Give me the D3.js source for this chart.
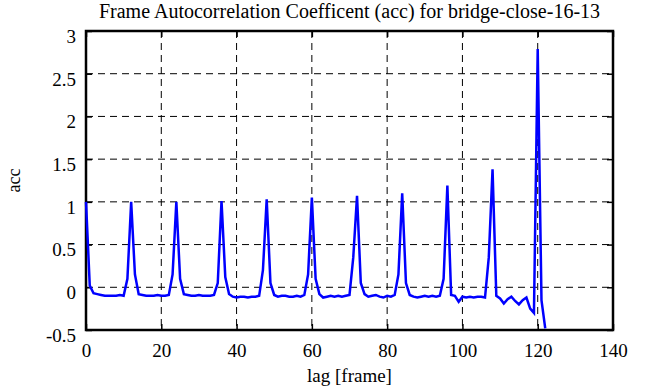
<!DOCTYPE html>
<html>
<head>
<meta charset="utf-8">
<script src="https://cdn.jsdelivr.net/npm/d3@7"></script>
<style>
  body { margin: 0; background: #fff; }
  text { font-family: "Liberation Serif", "DejaVu Serif", serif; fill: #000; }
</style>
</head>
<body>
<div id="chart"></div>
<script>
const TITLE = "Frame Autocorrelation Coefficent (acc) for bridge-close-16-13"
const X_LABEL = "lag [frame]"
const Y_LABEL = "acc"

const X_TICKS = [0, 20, 40, 60, 80, 100, 120, 140]
const Y_TICKS = [-0.5, 0, 0.5, 1, 1.5, 2, 2.5, 3]

// acc value for lag 0, 1, 2, ... (one per frame)
const ACC = [
  1.00, 0.02, -0.07, -0.08, -0.09, -0.10, -0.10, -0.10, -0.10, -0.09,
  -0.10, 0.10, 1.00, 0.15, -0.08, -0.09, -0.10, -0.10, -0.10, -0.09,
  -0.10, -0.10, -0.09, 0.15, 1.00, 0.10, -0.08, -0.09, -0.10, -0.10,
  -0.09, -0.10, -0.10, -0.10, -0.09, 0.05, 1.01, 0.12, -0.08, -0.11,
  -0.12, -0.11, -0.11, -0.12, -0.11, -0.11, -0.10, 0.20, 1.03, 0.05,
  -0.09, -0.11, -0.10, -0.10, -0.11, -0.11, -0.10, -0.11, -0.09, 0.15,
  1.05, 0.10, -0.08, -0.12, -0.11, -0.10, -0.11, -0.10, -0.11, -0.10,
  -0.09, 0.35, 1.07, 0.05, -0.08, -0.11, -0.10, -0.09, -0.11, -0.12,
  -0.10, -0.11, -0.09, 0.15, 1.10, 0.05, -0.09, -0.11, -0.12, -0.11,
  -0.10, -0.11, -0.10, -0.11, -0.10, 0.10, 1.19, -0.09, -0.10, -0.17,
  -0.11, -0.12, -0.11, -0.12, -0.11, -0.11, -0.12, 0.35, 1.38, -0.10,
  -0.13, -0.19, -0.14, -0.11, -0.16, -0.20, -0.15, -0.12, -0.25, -0.30,
  2.79, -0.15, -0.48
]

const W = 666, H = 387
const MARGIN = {top: 31, right: 53, bottom: 57, left: 86}
const WIDTH = W - MARGIN.left - MARGIN.right
const HEIGHT = H - MARGIN.top - MARGIN.bottom
const FONT = "'Liberation Serif', 'Times New Roman', serif"

const svg = d3.select("#chart")
  .append("svg")
  .attr("width", W)
  .attr("height", H)

const g = svg.append("g")
  .attr("transform", "translate(" + MARGIN.left + "," + MARGIN.top + ")")

const x = d3.scaleLinear().domain([0, 140]).range([0, WIDTH])
const y = d3.scaleLinear().domain([-0.5, 3]).range([HEIGHT, 0])

// dashed grid
g.append("g")
  .selectAll("line")
  .data(X_TICKS.slice(1, -1))
  .enter().append("line")
    .attr("x1", d => x(d)).attr("x2", d => x(d))
    .attr("y1", 0).attr("y2", HEIGHT)
    .attr("stroke", "#000").attr("stroke-width", 1)
    .attr("stroke-dasharray", "7,5")

g.append("g")
  .selectAll("line")
  .data(Y_TICKS.slice(1, -1))
  .enter().append("line")
    .attr("x1", 0).attr("x2", WIDTH)
    .attr("y1", d => y(d)).attr("y2", d => y(d))
    .attr("stroke", "#000").attr("stroke-width", 1)
    .attr("stroke-dasharray", "7,5")

// axes: ticks pointing inward on all four sides
const TICK = 6
const fmt = d => String(d)
const axisStyle = sel => {
  sel.attr("font-family", FONT).attr("font-size", 19)
  sel.select(".domain").remove()
  sel.selectAll(".tick line").attr("stroke", "#000").attr("stroke-width", 1.5)
  sel.selectAll("text").style("font-family", FONT).style("font-size", "19px")
}

g.append("g")
  .attr("transform", "translate(0," + HEIGHT + ")")
  .call(d3.axisBottom(x).tickValues(X_TICKS).tickFormat(fmt).tickSize(-TICK).tickPadding(14))
  .call(axisStyle)

g.append("g")
  .call(d3.axisTop(x).tickValues(X_TICKS).tickSize(-TICK).tickFormat(""))
  .call(axisStyle)

g.append("g")
  .call(d3.axisLeft(y).tickValues(Y_TICKS).tickFormat(fmt).tickSize(-TICK).tickPadding(10))
  .call(axisStyle)
  .selectAll("text").attr("dy", "0.6em")

g.append("g")
  .attr("transform", "translate(" + WIDTH + ",0)")
  .call(d3.axisRight(y).tickValues(Y_TICKS).tickSize(-TICK).tickFormat(""))
  .call(axisStyle)

// frame
g.append("rect")
  .attr("width", WIDTH).attr("height", HEIGHT)
  .attr("fill", "none").attr("stroke", "#000").attr("stroke-width", 2.5)

// data line
const line = d3.line()
  .x((d, i) => x(i))
  .y(d => y(d))

g.append("path")
  .datum(ACC)
  .attr("d", line)
  .attr("fill", "none")
  .attr("stroke", "#0000ff")
  .attr("stroke-width", 2.5)

// titles
svg.append("text")
  .attr("x", MARGIN.left + WIDTH / 2)
  .attr("y", 18)
  .attr("text-anchor", "middle")
  .style("font-size", "20px")
  .text(TITLE)

svg.append("text")
  .attr("x", MARGIN.left + WIDTH / 2)
  .attr("y", 382)
  .attr("text-anchor", "middle")
  .style("font-size", "19px")
  .text(X_LABEL)

svg.append("text")
  .attr("transform", "translate(20," + (MARGIN.top + HEIGHT / 2) + ") rotate(-90)")
  .attr("text-anchor", "middle")
  .style("font-size", "18px")
  .text(Y_LABEL)
</script>
</body>
</html>
